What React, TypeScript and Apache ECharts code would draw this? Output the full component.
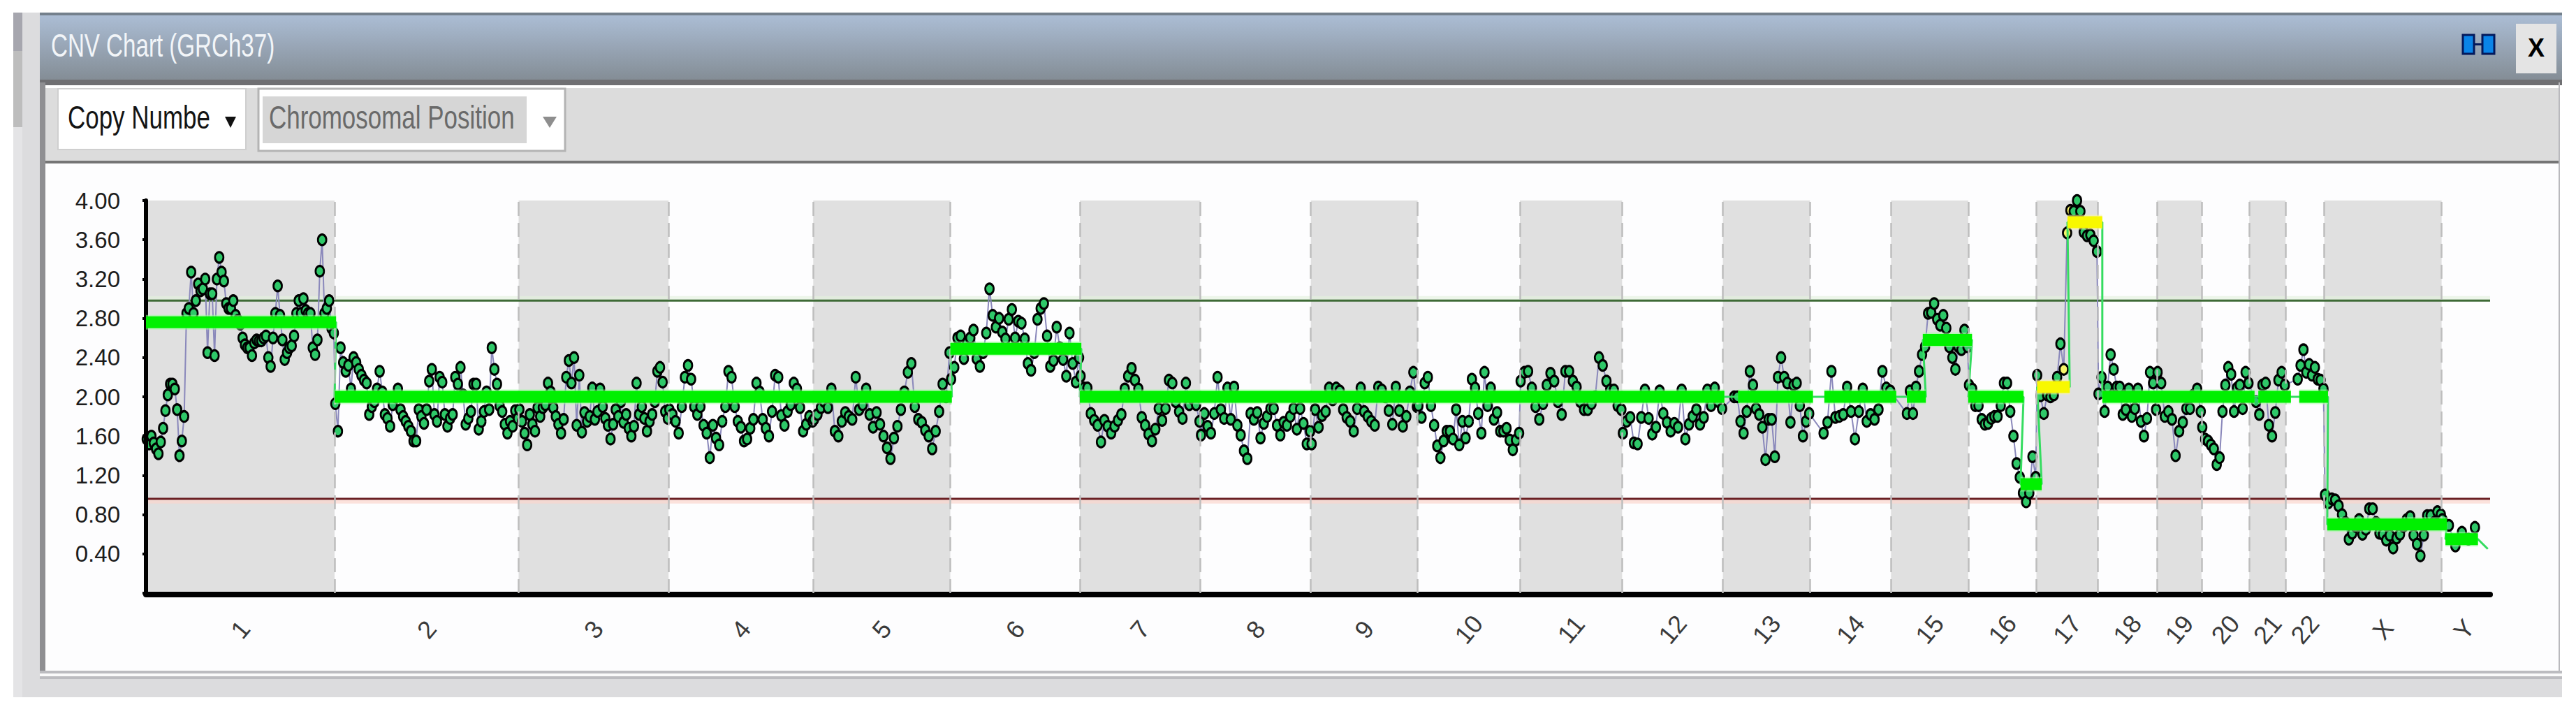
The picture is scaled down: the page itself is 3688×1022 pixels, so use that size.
import React, { useEffect, useRef } from "react";
import * as echarts from "echarts";

const SANS = "'Liberation Sans',sans-serif";

const chromosomes = ["1","2","3","4","5","6","7","8","9","10","11","12","13","14","15","16","17","18","19","20","21","22","X","Y"];
const chromosomeLengths = [249,243,198,191,181,171,159,146,141,135,135,133,115,107,102,90,81,78,59,63,48,51,155,59];
const firstProbe = [0,0,0,0,0,0,0,0,0,0,0,0,14,17,20,0,0,0,0,0,8,15,0,0];
const lastProbeGap = [0,0,0,0,0,0,0,0,0,0,0,0,0,0,0,0,0,0,0,0,0,0,0,14];
const yTicks = [0.4,0.8,1.2,1.6,2.0,2.4,2.8,3.2,3.6,4.0];

const chr1 = [1.57,1.52,1.60,1.53,1.47,1.42,1.54,1.68,1.86,2.02,2.13,2.13,2.08,1.87,1.40,1.55,1.80,2.85,2.90,3.27,2.85,2.98,3.15,3.08,3.10,3.20,2.45,3.05,3.05,2.42,3.20,3.42,3.27,3.18,2.95,2.90,2.90,2.98,2.83,2.78,2.74,2.60,2.53,2.50,2.50,2.42,2.55,2.58,2.57,2.57,2.60,2.62,2.40,2.31,2.60,2.85,3.13,2.83,2.58,2.38,2.45,2.50,2.52,2.62,2.85,2.98,2.85,3.00,2.88,2.85,2.85,2.50,2.43,2.58,3.28,3.60,2.85,2.90,2.98,2.70,2.65];
const chr2 = [1.93,1.65,2.50,2.35,2.26,2.32,2.08,2.40,2.35,2.28,2.22,2.17,2.14,1.82,1.90,1.95,2.08,2.26,2.05,1.82,1.78,1.70,1.92,2.0,2.08,1.87,1.80,1.75,1.70,1.65,1.55,1.55,1.87,1.80,1.73,1.87,2.16,2.28,1.82,1.75,2.2,2.15,1.82,1.70,1.78,1.82,2.2,2.13,2.3,2.02,1.72,1.78,1.85,2.13,2.13,1.67,1.75,1.85,2.05,1.87,2.5,2.28,2.13,1.91,1.85,1.72,1.63,1.75,1.70,1.86,1.78];
const chr3 = [1.87,1.75,1.63,1.51,1.82,1.72,1.65,1.89,1.80,1.89,1.92,2.14,2.05,1.89,1.80,1.72,1.63,1.77,2.2,2.37,2.14,2.4,1.71,2.22,1.64,1.84,1.75,1.80,2.09,1.77,1.85,2.08,1.90,1.78,1.71,1.57,1.72,1.87,1.80,1.95,1.74,1.82,1.68,1.60,1.70,2.14,1.82,1.90,1.78,1.65,1.75,1.82,1.95,2.26,2.30,2.15,1.85,1.78];
const chr4 = [1.87,1.82,1.75,1.63,1.90,2.2,2.32,2.18,1.9,1.82,1.9,1.71,1.63,1.38,1.71,1.58,1.51,1.75,1.90,2.26,2.2,1.9,1.75,1.69,1.55,1.57,1.68,1.77,2.14,2.05,1.77,1.68,1.60,1.85,2.22,2.2,1.81,1.71,1.85,1.92,2.14,2.08,1.89,1.65,1.72,1.80,1.75];
const chr5 = [1.77,1.82,1.89,1.95,1.89,2.08,1.65,1.60,1.75,1.84,1.80,1.77,2.2,1.87,1.92,2.08,1.82,1.69,1.84,1.72,1.60,1.48,1.37,1.58,1.70,1.87,2.05,2.25,2.34,1.90,1.77,1.74,1.66,1.60,1.47,1.65,1.85,2.13,2.0,2.45];
const chr6 = [2.18,2.3,2.6,2.62,2.39,2.55,2.6,2.68,2.39,2.31,2.45,2.65,3.1,2.83,2.71,2.8,2.66,2.59,2.79,2.89,2.6,2.77,2.75,2.59,2.34,2.27,2.45,2.79,2.9,2.95,2.62,2.31,2.37,2.71,2.50,2.38,2.21,2.65,2.34,2.15,2.40];
const chr7 = [2.21,2.09,2.09,1.83,1.76,1.71,1.54,1.76,1.70,1.63,1.70,1.76,1.82,2.08,2.21,2.29,2.17,2.08,1.79,1.71,1.62,1.55,1.67,1.88,1.76,1.88,2.17,2.14,1.95,1.85,1.78,2.14,1.92,1.98,1.92,1.75];
const chr8 = [1.61,1.83,1.70,1.63,1.83,2.2,1.87,1.78,2.09,1.77,2.1,1.71,1.61,1.45,1.37,1.83,1.77,1.84,1.58,1.73,1.80,1.88,1.88,1.71,1.61,1.74,1.71,1.80,1.88,1.67,1.88,1.73,1.52,1.65];
const chr9 = [1.52,1.87,1.69,1.81,1.85,2.09,1.97,2.09,2.06,1.87,1.79,1.75,1.65,1.88,2.09,1.85,1.80,1.75,1.71,2.1,2.07,2.0,1.86,1.72,2.1,1.86,1.7,1.80,2.05,2.25,1.90];
const chr10 = [1.91,1.79,2.14,2.2,1.91,1.71,1.5,1.38,1.55,1.65,1.65,1.57,1.87,1.51,1.75,1.58,1.75,2.18,2.09,1.83,1.63,2.25,1.91,2.09,1.77,1.84,1.65,1.65,1.68,1.56,1.46,1.56,1.63];
const chr11 = [2.16,2.25,2.26,2.09,1.90,1.77,1.93,2.12,2.24,2.16,1.95,1.82,2.26,2.26,2.16,2.1,1.95,1.87,1.87,1.93,2.0,2.4,2.32,2.16,2.07,2.07,1.91,1.87];
const chr12 = [1.63,1.75,1.79,1.53,1.52,1.79,2.07,1.78,1.62,1.69,2.06,1.83,1.74,1.65,1.73,1.69,2.07,1.57,1.72,1.80,1.87,1.72,1.79,2.07,1.91,2.09,1.95,1.88];
const chr13 = [2.0,2.0,1.75,1.63,1.85,2.26,2.12,1.88,1.82,1.69,1.36,1.77,1.77,1.39,2.2,2.40,2.2,2.14,1.74,2.12,2.14,1.91,1.6,1.75,1.83];
const chr14 = [1.63,1.74,2.26,1.79,1.8,1.82,2.1,1.85,1.57,1.85,2.08,1.75,1.82,1.77,1.87,2.26,2.09,2.06];
const chr15 = [1.83,2.06,1.83,2.1,2.26,2.43,2.51,2.85,2.86,2.95,2.79,2.73,2.83,2.7,2.51,2.4,2.28,2.51,2.48,2.68,2.51];
const chr16 = [2.12,2.08,1.91,1.91,1.77,1.72,1.73,1.78,1.8,1.8,1.91,2.14,2.14,1.85,1.6,1.32,1.18,1.02,0.93,1.02,1.39,1.18];
const chr17 = [2.22,2.01,1.83,2.02,2.0,2.02,2.2,2.54,2.28,3.67,3.9,3.89,4.0,3.89,3.68,3.64,3.65,3.59,3.48];
const chr18 = [2.03,2.2,1.85,2.1,2.43,2.28,2.1,2.1,1.82,1.87,2.08,1.8,1.88,2.08,1.75,1.6,1.78,2.25,2.14,1.87];
const chr19 = [2.25,2.14,1.8,1.85,1.77,1.4,1.65,1.74,1.88,1.88,2.02,2.08,1.85];
const chr20 = [1.69,1.57,1.55,1.51,1.47,1.31,1.38,1.85,2.12,2.3,2.23,1.85,2.09,2.12,1.88,2.25,2.14];
const chr21 = [1.95,1.82,2.12,2.14,1.71,1.6,1.84,2.17,2.25,2.12];
const chr22 = [2.18,2.32,2.48,2.25,2.33,2.22,2.3,2.18,2.17,2.08];
const chrX = [1.0,0.92,0.96,0.95,0.89,0.8,0.72,0.55,0.61,0.68,0.75,0.6,0.65,0.86,0.86,0.72,0.61,0.6,0.54,0.59,0.46,0.56,0.6,0.68,0.75,0.78,0.59,0.5,0.38,0.59,0.79,0.79,0.72,0.83,0.8];
const chrY = [0.75,0.69,0.48,0.62,0.55,0.67];
const probeValues = [chr1,chr2,chr3,chr4,chr5,chr6,chr7,chr8,chr9,chr10,chr11,chr12,chr13,chr14,chr15,chr16,chr17,chr18,chr19,chr20,chr21,chr22,chrX,chrY];
const yellowProbesChr17 = [8,9,10];

const segmentStart = [0,249,1062,1233,2102,2216,2325,2346,2406,2475,2583,2789,2843,2880,3036];
const segmentEnd = [251,1064,1235,2084,2201,2311,2350,2411,2479,2503,2784,2832,2881,3038,3079];
const segmentValue = [2.76,2.0,2.49,2.0,2.0,2.0,2.0,2.58,2.0,1.11,2.0,2.0,2.0,0.70,0.55];
const gainSegmentStart = [2497,2537];
const gainSegmentEnd = [2540,2583];
const gainSegmentValue = [2.10,3.78];
const trailEnd = [3092,0.45];
const gainThreshold = 2.98;
const lossThreshold = 0.96;

const cumulative: number[] = [];
chromosomeLengths.reduce((a, l, i) => { cumulative[i] = a + l; return a + l; }, 0);
const starts = chromosomeLengths.map((_, i) => (i === 0 ? 0 : cumulative[i - 1]));
const centers = chromosomeLengths.map((l, i) => starts[i] + l / 2);
const xMax = 3095;

function App() {
  const ref = useRef<HTMLDivElement>(null);
  useEffect(() => {
    document.body.style.margin = "0";
    const chart = echarts.init(ref.current!, undefined, { renderer: "svg" });

    const probes: any[] = [];
    probeValues.forEach((vals, c) => {
      const a = starts[c] + firstProbe[c] + 1;
      const b = cumulative[c] - lastProbeGap[c] - 1;
      vals.forEach((v, i) => {
        const x = a + ((b - a) * i) / Math.max(1, vals.length - 1);
        const isY = c === 16 && yellowProbesChr17.includes(i);
        probes.push(isY ? { value: [x, v], itemStyle: { color: "#f6f36a" } } : [x, v]);
      });
    });

    const segLine = (s: number[], e: number[], v: number[], color: string, halo: string) =>
      s.flatMap((st, i) => [
        { type: "line", silent: true, symbol: "none", z: 5, data: [[st, v[i]], [e[i], v[i]]], lineStyle: { color: halo, width: 21, opacity: 0.55 } },
        { type: "line", silent: true, symbol: "none", z: 6, data: [[st, v[i]], [e[i], v[i]]], lineStyle: { color, width: 17 } },
      ]);

    const allSeg = segmentStart.map((s, i) => ({ s, e: segmentEnd[i], v: segmentValue[i] }))
      .concat(gainSegmentStart.map((s, i) => ({ s, e: gainSegmentEnd[i], v: gainSegmentValue[i] })))
      .sort((a, b) => a.s - b.s);
    const connector: number[][] = [];
    allSeg.forEach((g) => { connector.push([g.s, g.v], [g.e, g.v]); });
    connector.push(trailEnd);

    const rect = (x: number, y: number, w: number, h: number, fill: any, extra: any = {}) => ({
      type: "rect", z: -10, shape: { x, y, width: w, height: h }, style: { fill, ...extra }, silent: true,
    });
    const label = (x: number, y: number, text: string, font: string, fill: string, scaleX = 1) => ({
      type: "text", z: -5, x, y, scaleX, style: { text, font, fill, verticalAlign: "middle" }, silent: true,
    });
    const tri = (pts: number[][], fill: string) => ({ type: "polygon", z: -5, shape: { points: pts }, style: { fill }, silent: true });

    const option: any = {
      animation: false,
      backgroundColor: "#ffffff",
      graphic: { elements: [
        rect(19, 18, 38, 980, "#dcdcde"),
        rect(19, 18, 13, 55, "#a6a6ae"),
        rect(19, 73, 13, 109, "#bdbdbd"),
        rect(19, 182, 13, 816, "#e4e4e6"),
        rect(57, 18, 3611, 100, new echarts.graphic.LinearGradient(0, 0, 0, 1, [
          { offset: 0, color: "#adbfd7" }, { offset: 1, color: "#828b93" },
        ])),
        rect(57, 18, 3611, 4, "#74808c"),
        rect(57, 114, 3611, 8, "#6f6f72"),
        rect(57, 118, 8, 850, "#8f8f92"),
        rect(65, 122, 3598, 4, "#ffffff"),
        rect(65, 126, 3598, 104, "#dcdcdc"),
        rect(65, 230, 3598, 4, "#757575"),
        rect(65, 234, 3598, 726, "#fdfdfe"),
        rect(3663, 118, 2, 850, "#b9b9bd"),
        rect(57, 960, 3611, 4, "#bcbcc0"),
        rect(57, 964, 3611, 4, "#fafafa"),
        rect(57, 968, 3611, 4, "#bcbcc0"),
        rect(57, 972, 3611, 26, "#dcdcde"),
        rect(83, 127, 269, 87, "#ffffff", { stroke: "#cfcfcf", lineWidth: 2 }),
        rect(370, 127, 439, 89, "#ffffff", { stroke: "#b4b4b4", lineWidth: 3 }),
        rect(376, 138, 378, 67, "#d6d6d6"),
        label(97, 168, "Copy Numbe", `46px ${SANS}`, "#141414", 0.76),
        tri([[322, 167], [338, 167], [330, 183]], "#111111"),
        label(385, 168, "Chromosomal Position", `46px ${SANS}`, "#6a6a6a", 0.76),
        tri([[777, 167], [797, 167], [787, 183]], "#8e8e8e"),
        label(73, 65, "CNV Chart (GRCh37)", `46px ${SANS}`, "#f2f5f8", 0.72),
        rect(3526, 50, 16, 27, "#0a84e8", { stroke: "#03195c", lineWidth: 3 }),
        rect(3554, 50, 17, 27, "#0a84e8", { stroke: "#03195c", lineWidth: 3 }),
        rect(3542, 62, 12, 3, "#03195c"),
        rect(3602, 34, 58, 71, "#e4e4e4"),
        label(3619, 68, "X", `bold 36px ${SANS}`, "#000000"),
      ] },
      grid: { left: 209, right: 3688 - 3565, top: 287, bottom: 1022 - 849, containLabel: false },
      xAxis: {
        type: "value", min: 0, max: xMax, z: 4, offset: 2,
        axisLine: { show: true, onZero: false, lineStyle: { color: "#000000", width: 8 } },
        axisTick: { show: false },
        splitLine: { show: false },
        axisLabel: {
          customValues: centers, rotate: 50, margin: 50, fontSize: 36, fontFamily: SANS, color: "#3a3a3a",
          align: "center", verticalAlign: "middle",
          formatter: (v: number) => { const i = centers.findIndex((c) => Math.abs(c - v) < 0.01); return i >= 0 ? chromosomes[i] : ""; },
        },
      },
      yAxis: {
        type: "value", min: 0, max: 4, interval: 0.4, z: 4,
        axisLine: { show: true, onZero: false, lineStyle: { color: "#000000", width: 6 } },
        axisTick: { show: true, length: 5, lineStyle: { color: "#000000", width: 4 } },
        splitLine: { show: false },
        axisLabel: {
          margin: 37, fontSize: 33, fontFamily: SANS, color: "#1c1c1c",
          formatter: (v: number) => (yTicks.some((t) => Math.abs(t - v) < 1e-6) ? v.toFixed(2) : ""),
        },
      },
      series: [
        {
          type: "line", silent: true, symbol: "none", z: 1, data: [],
          markArea: { silent: true, itemStyle: { color: "#e0e0e0" }, data: starts.map((s, i) => [{ xAxis: s }, { xAxis: cumulative[i] }]).filter((_, i) => i % 2 === 0) },
          markLine: {
            silent: true, symbol: "none", label: { show: false },
            lineStyle: { color: "#bdbdbd", width: 2.5, type: [20, 10] },
            data: cumulative.slice(0, 23).map((c) => ({ xAxis: c })),
          },
        },
        { type: "line", silent: true, symbol: "none", z: 2, data: [[0, gainThreshold + 0.025], [xMax, gainThreshold + 0.025]], lineStyle: { color: "#e2f2dc", width: 6, opacity: 0.6 } },
        { type: "line", silent: true, symbol: "none", z: 2, data: [[0, lossThreshold - 0.025], [xMax, lossThreshold - 0.025]], lineStyle: { color: "#fbd5cd", width: 6, opacity: 0.7 } },
        { type: "line", silent: true, symbol: "none", z: 2, data: [[0, gainThreshold], [xMax, gainThreshold]], lineStyle: { color: "#3e6a36", width: 3 } },
        { type: "line", silent: true, symbol: "none", z: 2, data: [[0, lossThreshold], [xMax, lossThreshold]], lineStyle: { color: "#6a2024", width: 3 } },
        {
          type: "line", silent: true, z: 3, data: probes, showSymbol: true, showAllSymbols: true, symbol: "circle", symbolSize: [12, 15],
          lineStyle: { color: "#8a88bb", width: 2 },
          itemStyle: { color: "#2ec868", borderColor: "#000000", borderWidth: 3 },
        },
        { type: "line", silent: true, symbol: "none", z: 4, data: connector, lineStyle: { color: "#35dc60", width: 3 } },
        ...segLine(segmentStart, segmentEnd, segmentValue, "#00f000", "#9cff9c"),
        ...segLine(gainSegmentStart, gainSegmentEnd, gainSegmentValue, "#f8f800", "#fbf59a"),
      ],
    };
    chart.setOption(option);
    return () => chart.dispose();
  }, []);
  return <div ref={ref} style={{ width: 3688, height: 1022 }} />;
}

export default App;
